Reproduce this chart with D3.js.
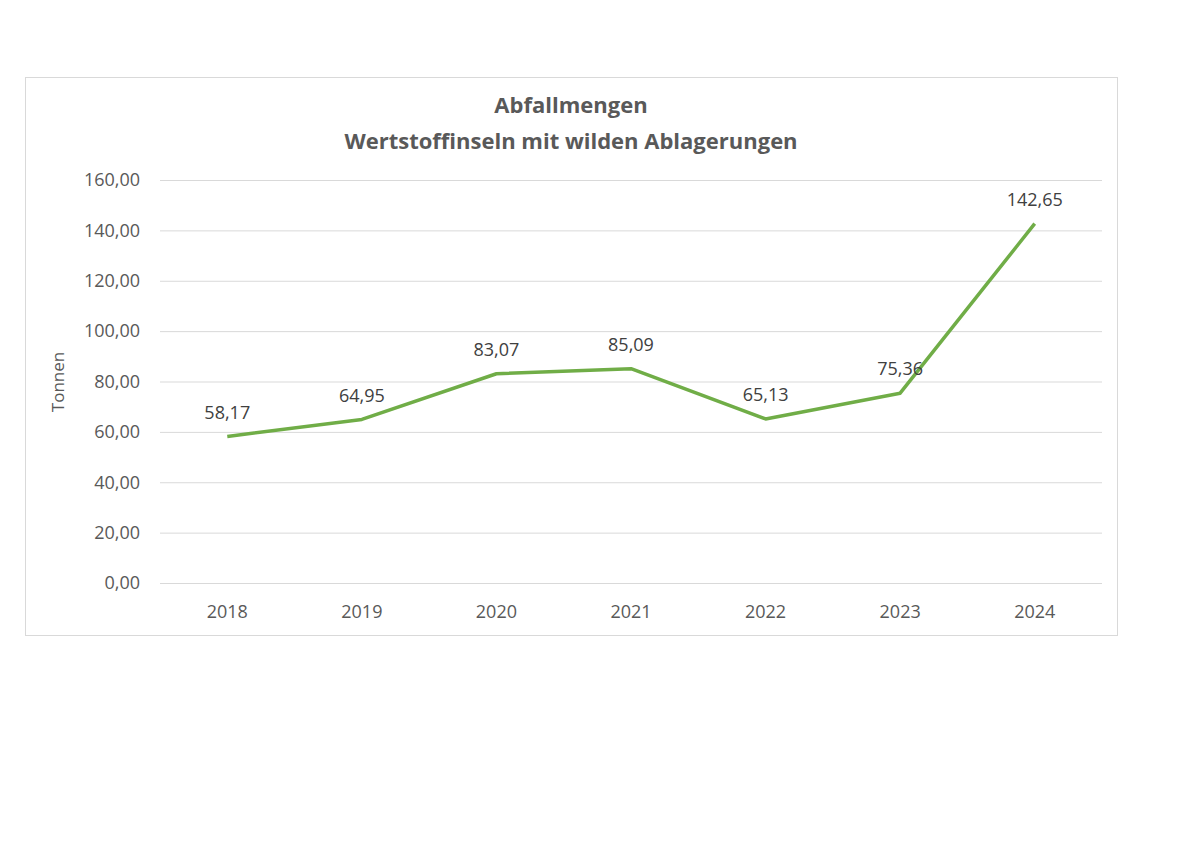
<!DOCTYPE html>
<html><head><meta charset="utf-8">
<script src="https://cdn.jsdelivr.net/npm/d3@7"></script>
<style>body{margin:0;background:#fff}text{font-family:"Open Sans","Noto Sans",sans-serif}</style>
</head><body>
<svg id="c" width="1200" height="849"></svg>
<script>
const years = ["2018","2019","2020","2021","2022","2023","2024"];
const values = [58.17,64.95,83.07,85.09,65.13,75.36,142.65];
const yTicks = [0,20,40,60,80,100,120,140,160];
const titleLines = ["Abfallmengen","Wertstoffinseln mit wilden Ablagerungen"];

const svg = d3.select("#c");
const fmt = v => d3.format(".2f")(v).replace(".", ",");
svg.append("rect").attr("x",25.5).attr("y",77.5).attr("width",1092).attr("height",558)
  .attr("fill","#fff").attr("stroke","#d9d9d9");
const x = d3.scalePoint().domain(years).range([160,1102]).padding(0.5);
const y = d3.scaleLinear().domain([0,160]).range([583,180]);

svg.append("g").selectAll("line").data(yTicks).join("line")
  .attr("x1",160).attr("x2",1102).attr("y1",d=>y(d)+0.5).attr("y2",d=>y(d)+0.5)
  .attr("stroke","#d9d9d9").attr("stroke-width",1);
svg.append("g").selectAll("text").data(yTicks).join("text")
  .attr("x",140).attr("y",d=>y(d)).attr("dy","0.35em").attr("text-anchor","end")
  .attr("font-size",18).attr("fill","#595959").text(fmt);
svg.append("g").selectAll("text").data(years).join("text")
  .attr("x",d=>x(d)).attr("y",612).attr("dy","0.35em").attr("text-anchor","middle")
  .attr("font-size",18).attr("fill","#595959").text(d=>d);
svg.append("text").attr("transform","translate(64,382) rotate(-90)").attr("text-anchor","middle")
  .attr("font-size",17).attr("fill","#595959").text("Tonnen");
svg.selectAll(".t").data(titleLines).join("text").attr("x",571).attr("y",(d,i)=>105+i*36)
  .attr("dy","0.35em").attr("text-anchor","middle").attr("font-size",22).attr("font-weight","bold")
  .attr("fill","#595959").text(d=>d);

const data = years.map((yr,i)=>({yr,v:values[i]}));
svg.append("path").datum(data).attr("fill","none").attr("stroke","#70AD47").attr("stroke-width",3.5)
  .attr("stroke-linejoin","round")
  .attr("d",d3.line().x(d=>x(d.yr)).y(d=>y(d.v)));
svg.append("g").selectAll("text").data(data).join("text")
  .attr("x",d=>x(d.yr)).attr("y",d=>y(d.v)-24).attr("dy","0.35em").attr("text-anchor","middle")
  .attr("font-size",18).attr("fill","#404040").text(d=>fmt(d.v));
</script></body></html>
